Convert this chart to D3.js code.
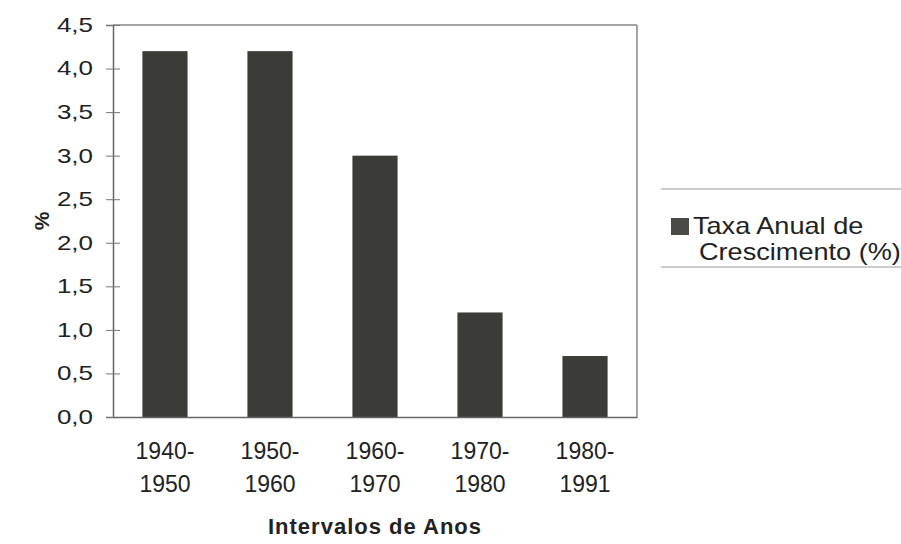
<!DOCTYPE html>
<html>
<head>
<meta charset="utf-8">
<script src="https://cdn.jsdelivr.net/npm/d3@7"></script>
<style>
  body { margin: 0; background: #fff; }
  text { font-family: "Liberation Sans", Arial, sans-serif; fill: #222; }
</style>
</head>
<body>
<div id="chart"></div>
<script>
// data
const periods = [["1940-", "1950"], ["1950-", "1960"], ["1960-", "1970"], ["1970-", "1980"], ["1980-", "1991"]];
const growthRate = [4.2, 4.2, 3.0, 1.2, 0.7];
const yTicks = [0, 0.5, 1, 1.5, 2, 2.5, 3, 3.5, 4, 4.5];
const seriesName = ["Taxa Anual de", "Crescimento (%)"];

const W = 901, H = 544;
const margin = { top: 25, right: 264, bottom: 127, left: 113 };
const width = W - margin.left - margin.right;
const height = H - margin.top - margin.bottom;

const svg = d3.select("#chart").append("svg")
  .attr("width", W)
  .attr("height", H);

const g = svg.append("g")
  .attr("transform", `translate(${margin.left},${margin.top})`);

const keys = periods.map(p => p.join(""));

const x = d3.scaleBand()
  .domain(keys)
  .range([0, width])
  .paddingInner(0.57)
  .paddingOuter(0.28);

const y = d3.scaleLinear()
  .domain([0, 4.5])
  .range([height, 0]);

// frame, top and right sides are lighter
g.append("line")
  .attr("x1", 0).attr("x2", width).attr("y1", 0).attr("y2", 0)
  .attr("stroke", "#888").attr("stroke-width", 1.5);
g.append("line")
  .attr("x1", width).attr("x2", width).attr("y1", 0).attr("y2", height)
  .attr("stroke", "#888").attr("stroke-width", 1.5);

// bars
g.selectAll(".bar")
  .data(growthRate)
  .join("rect")
  .attr("class", "bar")
  .attr("x", (d, i) => x(keys[i]))
  .attr("y", d => y(d))
  .attr("width", x.bandwidth())
  .attr("height", d => height - y(d))
  .attr("fill", "#3b3b37");

// y axis (labels in the scan are wide, so stretch them a bit)
const stretchY = 1.3;
const yAxis = g.append("g")
  .call(d3.axisLeft(y).tickValues(yTicks)
    .tickFormat(d => d3.format(".1f")(d).replace(".", ","))
    .tickSize(7));
yAxis.select(".domain").attr("stroke", "#666").attr("stroke-width", 1.5);
yAxis.selectAll(".tick line").attr("stroke", "#777").attr("x1", -7).attr("x2", 7);
yAxis.selectAll(".tick text")
  .attr("x", -20 / stretchY)
  .attr("transform", `scale(${stretchY},1)`)
  .style("font-size", "20px")
  .style("font-family", "'Liberation Sans', Arial, sans-serif")
  .attr("fill", "#222");

// x axis
const xAxis = g.append("g")
  .attr("transform", `translate(0,${height})`)
  .call(d3.axisBottom(x).tickSize(0).tickFormat(""));
xAxis.select(".domain").attr("stroke", "#666").attr("stroke-width", 1.5);

xAxis.selectAll(".tick").each(function(d, i) {
  const t = d3.select(this).append("text")
    .attr("text-anchor", "middle")
    .attr("y", 42)
    .style("font-size", "23px")
    .attr("fill", "#222");
  t.append("tspan").attr("x", 0).text(periods[i][0]);
  t.append("tspan").attr("x", 0).attr("dy", 33).text(periods[i][1]);
});

// axis titles
svg.append("text")
  .attr("x", margin.left + width / 2)
  .attr("y", 534)
  .attr("text-anchor", "middle")
  .style("font-size", "22px")
  .style("font-weight", "bold")
  .style("letter-spacing", "1px")
  .text("Intervalos de Anos");

svg.append("text")
  .attr("transform", `translate(49,221) rotate(-90)`)
  .attr("text-anchor", "middle")
  .style("font-size", "21px")
  .style("font-weight", "bold")
  .text("%");

// legend
const lg = svg.append("g");
lg.append("line")
  .attr("x1", 661).attr("x2", W).attr("y1", 189).attr("y2", 189)
  .attr("stroke", "#999").attr("stroke-width", 1.2);
lg.append("line")
  .attr("x1", 661).attr("x2", W).attr("y1", 267).attr("y2", 267)
  .attr("stroke", "#999").attr("stroke-width", 1.2);
lg.append("rect")
  .attr("x", 671).attr("y", 218)
  .attr("width", 18).attr("height", 17)
  .attr("fill", "#4a4a46");
const stretchL = 1.13;
lg.selectAll(".leg-text")
  .data(seriesName)
  .join("text")
  .attr("class", "leg-text")
  .attr("transform", `scale(${stretchL},1)`)
  .attr("x", (d, i) => (i === 0 ? 693 : 699) / stretchL)
  .attr("y", (d, i) => 234 + i * 26)
  .style("font-size", "24px")
  .text(d => d);
</script>
</body>
</html>
